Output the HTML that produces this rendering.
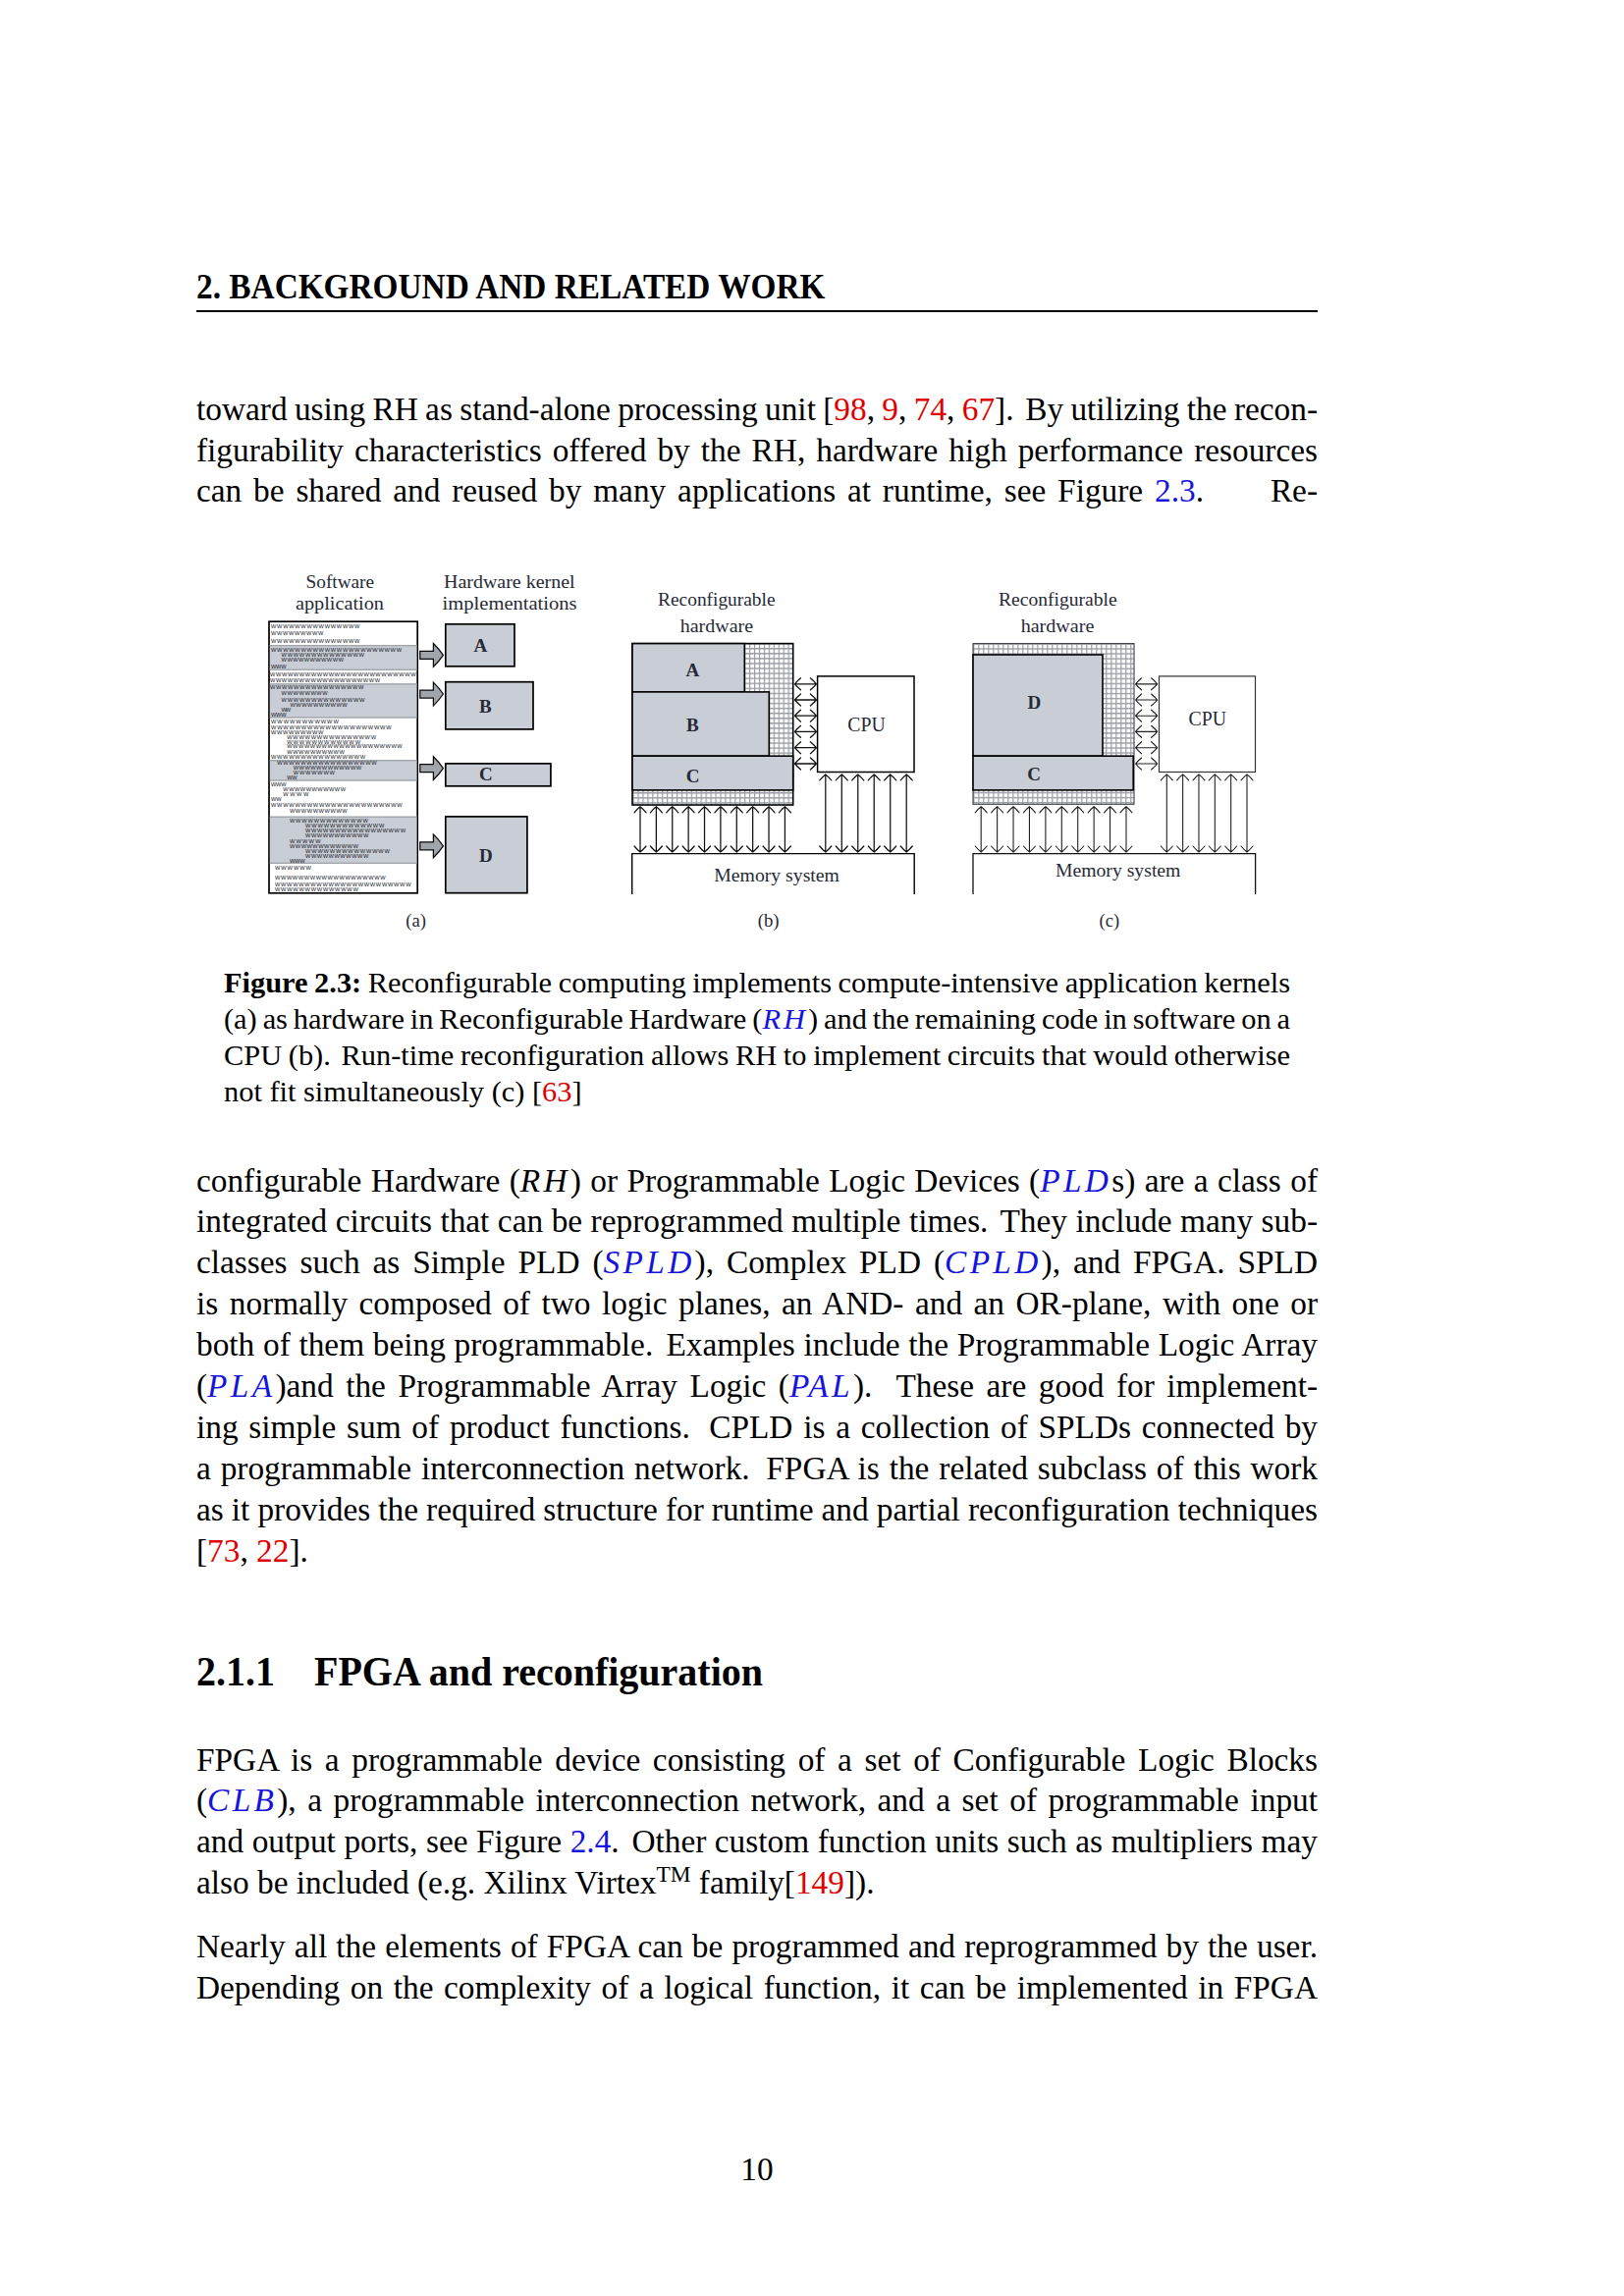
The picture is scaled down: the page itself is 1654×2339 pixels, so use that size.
<!DOCTYPE html>
<html><head><meta charset="utf-8"><style>
html,body{margin:0;padding:0;background:#fff;}
body{width:1654px;height:2339px;position:relative;overflow:hidden;font-family:"Liberation Serif",serif;color:#000;}
.t{position:absolute;line-height:0;white-space:nowrap;}
.r{color:#e00000;}
.b{color:#1414dc;}
.m{font-style:italic;letter-spacing:0.1em;}
sup{font-size:0.7em;vertical-align:0;position:relative;top:-0.5em;line-height:0;}
.rule{position:absolute;left:200.0px;width:1142.0px;top:316px;height:2px;background:#000;}
svg{position:absolute;left:0;top:0;}
</style></head><body>
<div class="rule"></div>
<div class="t" style="top:292.75px;left:200.00px;width:1142.00px;font-size:33.333px;font-weight:bold;transform:scaleY(1.06);transform-origin:0 11.25px;">2. BACKGROUND AND RELATED WORK</div>
<div class="t" style="top:416.75px;left:200.00px;width:1142.00px;font-size:33.333px;word-spacing:-0.990px;">toward using RH as stand-alone processing unit [<span class="r">98</span>, <span class="r">9</span>, <span class="r">74</span>, <span class="r">67</span>].<span style="margin-left:4.36px"></span> By utilizing the recon-</div>
<div class="t" style="top:458.75px;left:200.00px;width:1142.00px;font-size:33.333px;word-spacing:2.748px;">figurability characteristics offered by the RH, hardware high performance resources</div>
<div class="t" style="top:499.75px;left:200.00px;width:1026.00px;font-size:33.333px;word-spacing:3.514px;">can be shared and reused by many applications at runtime, see Figure <span class="b">2.3</span>.</div>
<div class="t" style="top:499.75px;left:1200.00px;width:142.00px;font-size:33.333px;text-align:right;">Re-</div>
<div class="t" style="top:1000.74px;left:228.00px;width:1086.00px;font-size:30.4px;word-spacing:-1.033px;"><b>Figure 2.3:</b> Reconfigurable computing implements compute-intensive application kernels</div>
<div class="t" style="top:1037.99px;left:228.00px;width:1086.00px;font-size:30.4px;word-spacing:-1.700px;">(a) as hardware in Reconfigurable Hardware (<span class="m"><span class="b">RH</span></span>) and the remaining code in software on a</div>
<div class="t" style="top:1075.24px;left:228.00px;width:1086.00px;font-size:30.4px;word-spacing:-0.925px;">CPU (b).<span style="margin-left:3.99px"></span> Run-time reconfiguration allows RH to implement circuits that would otherwise</div>
<div class="t" style="top:1112.49px;left:228.00px;width:1086.00px;font-size:30.4px;">not fit simultaneously (c) [<span class="r">63</span>]</div>
<div class="t" style="top:1202.55px;left:200.00px;width:1142.00px;font-size:33.333px;word-spacing:1.094px;">configurable Hardware (<span class="m">RH</span>) or Programmable Logic Devices (<span class="m"><span class="b">PLD</span></span>s) are a class of</div>
<div class="t" style="top:1244.45px;left:200.00px;width:1142.00px;font-size:33.333px;word-spacing:0.185px;">integrated circuits that can be reprogrammed multiple times.<span style="margin-left:4.07px"></span> They include many sub-</div>
<div class="t" style="top:1286.35px;left:200.00px;width:1142.00px;font-size:33.333px;word-spacing:4.605px;">classes such as Simple PLD (<span class="m"><span class="b">SPLD</span></span>), Complex PLD (<span class="m"><span class="b">CPLD</span></span>), and FPGA. SPLD</div>
<div class="t" style="top:1328.25px;left:200.00px;width:1142.00px;font-size:33.333px;word-spacing:3.161px;">is normally composed of two logic planes, an AND- and an OR-plane, with one or</div>
<div class="t" style="top:1370.15px;left:200.00px;width:1142.00px;font-size:33.333px;word-spacing:0.378px;">both of them being programmable.<span style="margin-left:4.46px"></span> Examples include the Programmable Logic Array</div>
<div class="t" style="top:1412.05px;left:200.00px;width:1142.00px;font-size:33.333px;word-spacing:4.210px;">(<span class="m"><span class="b">PLA</span></span>)and the Programmable Array Logic (<span class="m"><span class="b">PAL</span></span>).<span style="margin-left:12.12px"></span> These are good for implement-</div>
<div class="t" style="top:1453.95px;left:200.00px;width:1142.00px;font-size:33.333px;word-spacing:2.450px;">ing simple sum of product functions.<span style="margin-left:8.60px"></span> CPLD is a collection of SPLDs connected by</div>
<div class="t" style="top:1495.85px;left:200.00px;width:1142.00px;font-size:33.333px;word-spacing:1.554px;">a programmable interconnection network.<span style="margin-left:6.81px"></span> FPGA is the related subclass of this work</div>
<div class="t" style="top:1537.75px;left:200.00px;width:1142.00px;font-size:33.333px;word-spacing:-0.254px;">as it provides the required structure for runtime and partial reconfiguration techniques</div>
<div class="t" style="top:1579.65px;left:200.00px;width:1142.00px;font-size:33.333px;">[<span class="r">73</span>, <span class="r">22</span>].</div>
<div class="t" style="top:1703.50px;left:200.00px;width:1142.00px;font-size:40px;font-weight:bold;transform:scaleY(1.06);transform-origin:0 13.50px;">2.1.1<span style="display:inline-block;width:40px"></span>FPGA and reconfiguration</div>
<div class="t" style="top:1792.75px;left:200.00px;width:1142.00px;font-size:33.333px;word-spacing:4.303px;">FPGA is a programmable device consisting of a set of Configurable Logic Blocks</div>
<div class="t" style="top:1834.45px;left:200.00px;width:1142.00px;font-size:33.333px;word-spacing:3.250px;">(<span class="m"><span class="b">CLB</span></span>), a programmable interconnection network, and a set of programmable input</div>
<div class="t" style="top:1876.15px;left:200.00px;width:1142.00px;font-size:33.333px;word-spacing:0.228px;">and output ports, see Figure <span class="b">2.4</span>.<span style="margin-left:4.16px"></span> Other custom function units such as multipliers may</div>
<div class="t" style="top:1917.85px;left:200.00px;width:1142.00px;font-size:33.333px;">also be included (e.g. Xilinx Virtex<sup>TM</sup> family[<span class="r">149</span>]).</div>
<div class="t" style="top:1982.75px;left:200.00px;width:1142.00px;font-size:33.333px;word-spacing:0.849px;">Nearly all the elements of FPGA can be programmed and reprogrammed by the user.</div>
<div class="t" style="top:2024.75px;left:200.00px;width:1142.00px;font-size:33.333px;word-spacing:2.266px;">Depending on the complexity of a logical function, it can be implemented in FPGA</div>
<div class="t" style="top:2209.75px;left:200.00px;width:1142.00px;font-size:33.333px;text-align:center;">10</div>
<svg width="1654" height="2339" viewBox="0 0 1654 2339"><defs><pattern id="gb" patternUnits="userSpaceOnUse" x="649.4" y="655.0" width="4.94" height="5.07"><rect width="4.94" height="5.07" fill="#fff"/><rect width="1.25" height="5.07" fill="#9a9ea5"/><rect width="4.94" height="1.4" fill="#9a9ea5"/></pattern><pattern id="gc" patternUnits="userSpaceOnUse" x="996.2" y="655.3" width="5.0" height="5.05"><rect width="5" height="5.05" fill="#fff"/><rect width="1.25" height="5.05" fill="#9a9ea5"/><rect width="5" height="1.4" fill="#9a9ea5"/></pattern></defs><text x="346.3" y="598.5" font-family="'Liberation Serif'" font-size="19" text-anchor="middle" fill="#262a36" textLength="69.5" lengthAdjust="spacingAndGlyphs">Software</text><text x="346.0" y="620.6" font-family="'Liberation Serif'" font-size="19" text-anchor="middle" fill="#262a36" textLength="90" lengthAdjust="spacingAndGlyphs">application</text><text x="518.8" y="598.5" font-family="'Liberation Serif'" font-size="19" text-anchor="middle" fill="#262a36" textLength="133.5" lengthAdjust="spacingAndGlyphs">Hardware kernel</text><text x="519.1" y="620.6" font-family="'Liberation Serif'" font-size="19" text-anchor="middle" fill="#262a36" textLength="137" lengthAdjust="spacingAndGlyphs">implementations</text><rect x="274.0" y="633.2" width="151.20" height="276.60" fill="#fff" stroke="#000" stroke-width="1.7" /><rect x="274.85" y="657.0" width="149.50" height="25.90" fill="#c9cdd5"/><rect x="274.85" y="657.0" width="149.50" height="1.4" fill="#a3a7ad"/><rect x="274.85" y="681.50" width="149.50" height="1.4" fill="#a3a7ad"/><rect x="274.85" y="696.2" width="149.50" height="35.40" fill="#c9cdd5"/><rect x="274.85" y="696.2" width="149.50" height="1.4" fill="#a3a7ad"/><rect x="274.85" y="730.20" width="149.50" height="1.4" fill="#a3a7ad"/><rect x="274.85" y="774.0" width="149.50" height="21.60" fill="#c9cdd5"/><rect x="274.85" y="774.0" width="149.50" height="1.4" fill="#a3a7ad"/><rect x="274.85" y="794.20" width="149.50" height="1.4" fill="#a3a7ad"/><rect x="274.85" y="831.6" width="149.50" height="48.40" fill="#c9cdd5"/><rect x="274.85" y="831.6" width="149.50" height="1.4" fill="#a3a7ad"/><rect x="274.85" y="878.60" width="149.50" height="1.4" fill="#a3a7ad"/><text x="276" y="639.7" font-family="'Liberation Sans'" font-size="5.7" fill="#15171f" textLength="90.4" lengthAdjust="spacing">WWWWWWWWWWWWWWW</text><text x="276" y="647.3" font-family="'Liberation Sans'" font-size="5.7" fill="#15171f" textLength="53.3" lengthAdjust="spacing">WWWWWWWWW</text><text x="276" y="654.7" font-family="'Liberation Sans'" font-size="5.7" fill="#15171f" textLength="90.4" lengthAdjust="spacing">WWWWWWWWWWWWWWW</text><text x="276" y="663.6" font-family="'Liberation Sans'" font-size="5.7" fill="#15171f" textLength="133.0" lengthAdjust="spacing">WWWWWWWWWWWWWWWWWWWWWW</text><text x="286.6" y="669.1" font-family="'Liberation Sans'" font-size="5.7" fill="#15171f" textLength="84.3" lengthAdjust="spacing">WWWWWWWWWWWWWW</text><text x="286.6" y="674.1" font-family="'Liberation Sans'" font-size="5.7" fill="#15171f" textLength="63.2" lengthAdjust="spacing">WWWWWWWWWWW</text><text x="276" y="680.8" font-family="'Liberation Sans'" font-size="5.7" fill="#15171f" textLength="15.6" lengthAdjust="spacing">WWW</text><text x="275" y="688.5" font-family="'Liberation Sans'" font-size="5.7" fill="#15171f" textLength="148.5" lengthAdjust="spacing">WWWWWWWWWWWWWWWWWWWWWWWWW</text><text x="275" y="695.0" font-family="'Liberation Sans'" font-size="5.7" fill="#15171f" textLength="112.0" lengthAdjust="spacing">WWWWWWWWWWWWWWWWWWW</text><text x="275" y="702.4" font-family="'Liberation Sans'" font-size="5.7" fill="#15171f" textLength="95.3" lengthAdjust="spacing">WWWWWWWWWWWWWWWW</text><text x="286.6" y="707.9" font-family="'Liberation Sans'" font-size="5.7" fill="#15171f" textLength="47.1" lengthAdjust="spacing">WWWWWWWW</text><text x="286.6" y="714.6" font-family="'Liberation Sans'" font-size="5.7" fill="#15171f" textLength="84.8" lengthAdjust="spacing">WWWWWWWWWWWWWW</text><text x="295.5" y="719.6" font-family="'Liberation Sans'" font-size="5.7" fill="#15171f" textLength="58.2" lengthAdjust="spacing">WWWWWWWWWW</text><text x="286.6" y="725.1" font-family="'Liberation Sans'" font-size="5.7" fill="#15171f" textLength="9.4" lengthAdjust="spacing">WW</text><text x="276" y="729.5" font-family="'Liberation Sans'" font-size="5.7" fill="#15171f" textLength="15.6" lengthAdjust="spacing">WWW</text><text x="276" y="737.1" font-family="'Liberation Sans'" font-size="5.7" fill="#15171f" textLength="68.8" lengthAdjust="spacing">WWWWWWWWWWW</text><text x="276" y="742.8" font-family="'Liberation Sans'" font-size="5.7" fill="#15171f" textLength="122.6" lengthAdjust="spacing">WWWWWWWWWWWWWWWWWWWW</text><text x="276" y="747.8" font-family="'Liberation Sans'" font-size="5.7" fill="#15171f" textLength="53.3" lengthAdjust="spacing">WWWWWWWWW</text><text x="292.2" y="752.8" font-family="'Liberation Sans'" font-size="5.7" fill="#15171f" textLength="90.9" lengthAdjust="spacing">WWWWWWWWWWWWWWW</text><text x="292.2" y="757.8" font-family="'Liberation Sans'" font-size="5.7" fill="#15171f" textLength="74.8" lengthAdjust="spacing">WWWWWWWWWWWW</text><text x="292.2" y="761.9" font-family="'Liberation Sans'" font-size="5.7" fill="#15171f" textLength="117.5" lengthAdjust="spacing">WWWWWWWWWWWWWWWWWWWW</text><text x="292.2" y="767.5" font-family="'Liberation Sans'" font-size="5.7" fill="#15171f" textLength="58.7" lengthAdjust="spacing">WWWWWWWWWW</text><text x="276" y="772.8" font-family="'Liberation Sans'" font-size="5.7" fill="#15171f" textLength="96.0" lengthAdjust="spacing">WWWWWWWWWWWWWWWW</text><text x="282.2" y="779.2" font-family="'Liberation Sans'" font-size="5.7" fill="#15171f" textLength="101.4" lengthAdjust="spacing">WWWWWWWWWWWWWWWWW</text><text x="298.8" y="784.4" font-family="'Liberation Sans'" font-size="5.7" fill="#15171f" textLength="69.3" lengthAdjust="spacing">WWWWWWWWWWWW</text><text x="298.8" y="788.9" font-family="'Liberation Sans'" font-size="5.7" fill="#15171f" textLength="42.1" lengthAdjust="spacing">WWWWWWW</text><text x="292.2" y="793.8" font-family="'Liberation Sans'" font-size="5.7" fill="#15171f" textLength="10.5" lengthAdjust="spacing">WW</text><text x="276" y="801.1" font-family="'Liberation Sans'" font-size="5.7" fill="#15171f" textLength="15.6" lengthAdjust="spacing">WWW</text><text x="288.3" y="805.8" font-family="'Liberation Sans'" font-size="5.7" fill="#15171f" textLength="63.7" lengthAdjust="spacing">WWWWWWWWWWW</text><text x="288.3" y="811.0" font-family="'Liberation Sans'" font-size="5.7" fill="#15171f" textLength="26.0" lengthAdjust="spacing">WWWW</text><text x="276" y="816.1" font-family="'Liberation Sans'" font-size="5.7" fill="#15171f" textLength="10.6" lengthAdjust="spacing">WW</text><text x="276" y="821.9" font-family="'Liberation Sans'" font-size="5.7" fill="#15171f" textLength="133.7" lengthAdjust="spacing">WWWWWWWWWWWWWWWWWWWWWW</text><text x="294.9" y="828.0" font-family="'Liberation Sans'" font-size="5.7" fill="#15171f" textLength="58.8" lengthAdjust="spacing">WWWWWWWWWW</text><text x="294.9" y="838.0" font-family="'Liberation Sans'" font-size="5.7" fill="#15171f" textLength="79.9" lengthAdjust="spacing">WWWWWWWWWWWWW</text><text x="311" y="842.8" font-family="'Liberation Sans'" font-size="5.7" fill="#15171f" textLength="80.4" lengthAdjust="spacing">WWWWWWWWWWWWW</text><text x="311" y="848.0" font-family="'Liberation Sans'" font-size="5.7" fill="#15171f" textLength="102.0" lengthAdjust="spacing">WWWWWWWWWWWWWWWWW</text><text x="311" y="852.7" font-family="'Liberation Sans'" font-size="5.7" fill="#15171f" textLength="64.3" lengthAdjust="spacing">WWWWWWWWWWW</text><text x="294.9" y="858.5" font-family="'Liberation Sans'" font-size="5.7" fill="#15171f" textLength="31.6" lengthAdjust="spacing">WWWWW</text><text x="294.9" y="863.8" font-family="'Liberation Sans'" font-size="5.7" fill="#15171f" textLength="69.9" lengthAdjust="spacing">WWWWWWWWWWWW</text><text x="311" y="869.0" font-family="'Liberation Sans'" font-size="5.7" fill="#15171f" textLength="85.9" lengthAdjust="spacing">WWWWWWWWWWWWWW</text><text x="311" y="874.0" font-family="'Liberation Sans'" font-size="5.7" fill="#15171f" textLength="64.3" lengthAdjust="spacing">WWWWWWWWWWW</text><text x="294.9" y="879.0" font-family="'Liberation Sans'" font-size="5.7" fill="#15171f" textLength="15.6" lengthAdjust="spacing">WWW</text><text x="280" y="886.0" font-family="'Liberation Sans'" font-size="5.7" fill="#15171f" textLength="36.9" lengthAdjust="spacing">WWWWWW</text><text x="280" y="895.6" font-family="'Liberation Sans'" font-size="5.7" fill="#15171f" textLength="112.5" lengthAdjust="spacing">WWWWWWWWWWWWWWWWWWW</text><text x="280" y="902.8" font-family="'Liberation Sans'" font-size="5.7" fill="#15171f" textLength="138.5" lengthAdjust="spacing">WWWWWWWWWWWWWWWWWWWWWWW</text><text x="280" y="908.4" font-family="'Liberation Sans'" font-size="5.7" fill="#15171f" textLength="84.8" lengthAdjust="spacing">WWWWWWWWWWWWWW</text><path d="M427.8,663.4 L441.4,663.4 L441.4,655.5 Q447.4,661.4 451.4,667.4 Q447.4,673.4 441.4,679.3 L441.4,671.4 L427.8,671.4 Z" fill="#a0a5ac" stroke="#0a0a0a" stroke-width="1.25" stroke-linejoin="miter"/><path d="M427.8,703.0 L441.4,703.0 L441.4,695.1 Q447.4,701.0 451.4,707.0 Q447.4,713.0 441.4,718.9 L441.4,711.0 L427.8,711.0 Z" fill="#a0a5ac" stroke="#0a0a0a" stroke-width="1.25" stroke-linejoin="miter"/><path d="M427.8,778.6 L441.4,778.6 L441.4,770.7 Q447.4,776.6 451.4,782.6 Q447.4,788.6 441.4,794.5 L441.4,786.6 L427.8,786.6 Z" fill="#a0a5ac" stroke="#0a0a0a" stroke-width="1.25" stroke-linejoin="miter"/><path d="M427.8,857.8 L441.4,857.8 L441.4,849.9 Q447.4,855.8 451.4,861.8 Q447.4,867.8 441.4,873.6999999999999 L441.4,865.8 L427.8,865.8 Z" fill="#a0a5ac" stroke="#0a0a0a" stroke-width="1.25" stroke-linejoin="miter"/><rect x="453.8" y="635.8" width="70.20" height="43.00" fill="#c9cdd5" stroke="#000" stroke-width="1.7" /><rect x="453.8" y="694.7" width="89.20" height="48.20" fill="#c9cdd5" stroke="#000" stroke-width="1.7" /><rect x="453.8" y="777.9" width="107.10" height="22.90" fill="#c9cdd5" stroke="#000" stroke-width="1.7" /><rect x="453.8" y="831.9" width="83.10" height="77.80" fill="#c9cdd5" stroke="#000" stroke-width="1.7" /><text x="489.3" y="663.6" font-family="'Liberation Serif'" font-size="19" font-weight="bold" text-anchor="middle" fill="#262a36">A</text><text x="494.4" y="726.3" font-family="'Liberation Serif'" font-size="19" font-weight="bold" text-anchor="middle" fill="#262a36">B</text><text x="494.8" y="795.4" font-family="'Liberation Serif'" font-size="19" font-weight="bold" text-anchor="middle" fill="#262a36">C</text><text x="494.8" y="877.6" font-family="'Liberation Serif'" font-size="19" font-weight="bold" text-anchor="middle" fill="#262a36">D</text><text x="423.6" y="943.7" font-family="'Liberation Serif'" font-size="19" text-anchor="middle" fill="#262a36" textLength="20.7" lengthAdjust="spacingAndGlyphs">(a)</text><text x="729.8" y="617.0" font-family="'Liberation Serif'" font-size="19" text-anchor="middle" fill="#262a36" textLength="119.5" lengthAdjust="spacingAndGlyphs">Reconfigurable</text><text x="729.9" y="643.6" font-family="'Liberation Serif'" font-size="19" text-anchor="middle" fill="#262a36" textLength="74.3" lengthAdjust="spacingAndGlyphs">hardware</text><rect x="644.0" y="655.6" width="163.70" height="164.40" fill="url(#gb)" stroke="#000" stroke-width="1.6" /><rect x="644.0" y="655.6" width="114.30" height="49.30" fill="#c9cdd5" stroke="#000" stroke-width="1.6" /><rect x="644.0" y="704.9" width="139.30" height="65.30" fill="#c9cdd5" stroke="#000" stroke-width="1.6" /><rect x="644.0" y="770.2" width="163.70" height="34.70" fill="#c9cdd5" stroke="#000" stroke-width="1.6" /><text x="705.4" y="688.8" font-family="'Liberation Serif'" font-size="19" font-weight="bold" text-anchor="middle" fill="#262a36">A</text><text x="705.4" y="744.6" font-family="'Liberation Serif'" font-size="19" font-weight="bold" text-anchor="middle" fill="#262a36">B</text><text x="705.6" y="796.8" font-family="'Liberation Serif'" font-size="19" font-weight="bold" text-anchor="middle" fill="#262a36">C</text><rect x="832.6" y="688.9" width="98.40" height="97.60" fill="#fff" stroke="#000" stroke-width="1.5" /><text x="882.5" y="744.6" font-family="'Liberation Serif'" font-size="20.5" text-anchor="middle" fill="#262a36" textLength="38.5" lengthAdjust="spacingAndGlyphs">CPU</text><path d="M809.5,696.8 L831.4,696.8 M815.5,690.8 Q811.6,694.0999999999999 809.5,696.8 Q811.6,699.5 815.5,702.8 M825.4,690.8 Q829.3,694.0999999999999 831.4,696.8 Q829.3,699.5 825.4,702.8" fill="none" stroke="#111" stroke-width="1.3" stroke-linecap="round"/><path d="M809.5,713.0 L831.4,713.0 M815.5,707.0 Q811.6,710.3 809.5,713.0 Q811.6,715.7 815.5,719.0 M825.4,707.0 Q829.3,710.3 831.4,713.0 Q829.3,715.7 825.4,719.0" fill="none" stroke="#111" stroke-width="1.3" stroke-linecap="round"/><path d="M809.5,729.2 L831.4,729.2 M815.5,723.2 Q811.6,726.5 809.5,729.2 Q811.6,731.9000000000001 815.5,735.2 M825.4,723.2 Q829.3,726.5 831.4,729.2 Q829.3,731.9000000000001 825.4,735.2" fill="none" stroke="#111" stroke-width="1.3" stroke-linecap="round"/><path d="M809.5,745.3 L831.4,745.3 M815.5,739.3 Q811.6,742.5999999999999 809.5,745.3 Q811.6,748.0 815.5,751.3 M825.4,739.3 Q829.3,742.5999999999999 831.4,745.3 Q829.3,748.0 825.4,751.3" fill="none" stroke="#111" stroke-width="1.3" stroke-linecap="round"/><path d="M809.5,761.7 L831.4,761.7 M815.5,755.7 Q811.6,759.0 809.5,761.7 Q811.6,764.4000000000001 815.5,767.7 M825.4,755.7 Q829.3,759.0 831.4,761.7 Q829.3,764.4000000000001 825.4,767.7" fill="none" stroke="#111" stroke-width="1.3" stroke-linecap="round"/><path d="M809.5,778.0 L831.4,778.0 M815.5,772.0 Q811.6,775.3 809.5,778.0 Q811.6,780.7 815.5,784.0 M825.4,772.0 Q829.3,775.3 831.4,778.0 Q829.3,780.7 825.4,784.0" fill="none" stroke="#111" stroke-width="1.3" stroke-linecap="round"/><path d="M652.0,821.8 L652.0,868.0 M646.0,827.8 Q649.3,823.9 652.0,821.8 Q654.7,823.9 658.0,827.8 M646.0,862.0 Q649.3,865.9 652.0,868.0 Q654.7,865.9 658.0,862.0" fill="none" stroke="#111" stroke-width="1.25" stroke-linecap="round"/><path d="M668.38,821.8 L668.38,868.0 M662.38,827.8 Q665.68,823.9 668.38,821.8 Q671.08,823.9 674.38,827.8 M662.38,862.0 Q665.68,865.9 668.38,868.0 Q671.08,865.9 674.38,862.0" fill="none" stroke="#111" stroke-width="1.25" stroke-linecap="round"/><path d="M684.76,821.8 L684.76,868.0 M678.76,827.8 Q682.06,823.9 684.76,821.8 Q687.46,823.9 690.76,827.8 M678.76,862.0 Q682.06,865.9 684.76,868.0 Q687.46,865.9 690.76,862.0" fill="none" stroke="#111" stroke-width="1.25" stroke-linecap="round"/><path d="M701.14,821.8 L701.14,868.0 M695.14,827.8 Q698.4399999999999,823.9 701.14,821.8 Q703.84,823.9 707.14,827.8 M695.14,862.0 Q698.4399999999999,865.9 701.14,868.0 Q703.84,865.9 707.14,862.0" fill="none" stroke="#111" stroke-width="1.25" stroke-linecap="round"/><path d="M717.52,821.8 L717.52,868.0 M711.52,827.8 Q714.8199999999999,823.9 717.52,821.8 Q720.22,823.9 723.52,827.8 M711.52,862.0 Q714.8199999999999,865.9 717.52,868.0 Q720.22,865.9 723.52,862.0" fill="none" stroke="#111" stroke-width="1.25" stroke-linecap="round"/><path d="M733.9,821.8 L733.9,868.0 M727.9,827.8 Q731.1999999999999,823.9 733.9,821.8 Q736.6,823.9 739.9,827.8 M727.9,862.0 Q731.1999999999999,865.9 733.9,868.0 Q736.6,865.9 739.9,862.0" fill="none" stroke="#111" stroke-width="1.25" stroke-linecap="round"/><path d="M750.28,821.8 L750.28,868.0 M744.28,827.8 Q747.5799999999999,823.9 750.28,821.8 Q752.98,823.9 756.28,827.8 M744.28,862.0 Q747.5799999999999,865.9 750.28,868.0 Q752.98,865.9 756.28,862.0" fill="none" stroke="#111" stroke-width="1.25" stroke-linecap="round"/><path d="M766.66,821.8 L766.66,868.0 M760.66,827.8 Q763.9599999999999,823.9 766.66,821.8 Q769.36,823.9 772.66,827.8 M760.66,862.0 Q763.9599999999999,865.9 766.66,868.0 Q769.36,865.9 772.66,862.0" fill="none" stroke="#111" stroke-width="1.25" stroke-linecap="round"/><path d="M783.04,821.8 L783.04,868.0 M777.04,827.8 Q780.3399999999999,823.9 783.04,821.8 Q785.74,823.9 789.04,827.8 M777.04,862.0 Q780.3399999999999,865.9 783.04,868.0 Q785.74,865.9 789.04,862.0" fill="none" stroke="#111" stroke-width="1.25" stroke-linecap="round"/><path d="M799.42,821.8 L799.42,868.0 M793.42,827.8 Q796.7199999999999,823.9 799.42,821.8 Q802.12,823.9 805.42,827.8 M793.42,862.0 Q796.7199999999999,865.9 799.42,868.0 Q802.12,865.9 805.42,862.0" fill="none" stroke="#111" stroke-width="1.25" stroke-linecap="round"/><path d="M840.8,788.9 L840.8,868.0 M834.8,794.9 Q838.0999999999999,791.0 840.8,788.9 Q843.5,791.0 846.8,794.9 M834.8,862.0 Q838.0999999999999,865.9 840.8,868.0 Q843.5,865.9 846.8,862.0" fill="none" stroke="#111" stroke-width="1.25" stroke-linecap="round"/><path d="M857.28,788.9 L857.28,868.0 M851.28,794.9 Q854.5799999999999,791.0 857.28,788.9 Q859.98,791.0 863.28,794.9 M851.28,862.0 Q854.5799999999999,865.9 857.28,868.0 Q859.98,865.9 863.28,862.0" fill="none" stroke="#111" stroke-width="1.25" stroke-linecap="round"/><path d="M873.76,788.9 L873.76,868.0 M867.76,794.9 Q871.06,791.0 873.76,788.9 Q876.46,791.0 879.76,794.9 M867.76,862.0 Q871.06,865.9 873.76,868.0 Q876.46,865.9 879.76,862.0" fill="none" stroke="#111" stroke-width="1.25" stroke-linecap="round"/><path d="M890.24,788.9 L890.24,868.0 M884.24,794.9 Q887.54,791.0 890.24,788.9 Q892.94,791.0 896.24,794.9 M884.24,862.0 Q887.54,865.9 890.24,868.0 Q892.94,865.9 896.24,862.0" fill="none" stroke="#111" stroke-width="1.25" stroke-linecap="round"/><path d="M906.7199999999999,788.9 L906.7199999999999,868.0 M900.7199999999999,794.9 Q904.0199999999999,791.0 906.7199999999999,788.9 Q909.42,791.0 912.7199999999999,794.9 M900.7199999999999,862.0 Q904.0199999999999,865.9 906.7199999999999,868.0 Q909.42,865.9 912.7199999999999,862.0" fill="none" stroke="#111" stroke-width="1.25" stroke-linecap="round"/><path d="M923.1999999999999,788.9 L923.1999999999999,868.0 M917.1999999999999,794.9 Q920.4999999999999,791.0 923.1999999999999,788.9 Q925.9,791.0 929.1999999999999,794.9 M917.1999999999999,862.0 Q920.4999999999999,865.9 923.1999999999999,868.0 Q925.9,865.9 929.1999999999999,862.0" fill="none" stroke="#111" stroke-width="1.25" stroke-linecap="round"/><path d="M643.7,911 L643.7,869.6 L931.2,869.6 L931.2,911" fill="none" stroke="#000" stroke-width="1.4"/><text x="791.1" y="897.6" font-family="'Liberation Serif'" font-size="19.5" text-anchor="middle" fill="#262a36" textLength="127.5" lengthAdjust="spacingAndGlyphs">Memory system</text><text x="782.6" y="943.7" font-family="'Liberation Serif'" font-size="19" text-anchor="middle" fill="#262a36" textLength="21.9" lengthAdjust="spacingAndGlyphs">(b)</text><text x="1077.3" y="617.0" font-family="'Liberation Serif'" font-size="19" text-anchor="middle" fill="#262a36" textLength="120.6" lengthAdjust="spacingAndGlyphs">Reconfigurable</text><text x="1077.0" y="643.6" font-family="'Liberation Serif'" font-size="19" text-anchor="middle" fill="#262a36" textLength="74.7" lengthAdjust="spacingAndGlyphs">hardware</text><rect x="991.0" y="655.6" width="164.00" height="163.70" fill="url(#gc)" stroke="#3a3d44" stroke-width="1.1" /><rect x="991.0" y="667.0" width="132.00" height="103.20" fill="#c9cdd5" stroke="#000" stroke-width="1.6" /><rect x="991.0" y="770.2" width="163.20" height="34.70" fill="#c9cdd5" stroke="#000" stroke-width="1.6" /><text x="1053.3" y="721.6" font-family="'Liberation Serif'" font-size="19" font-weight="bold" text-anchor="middle" fill="#262a36">D</text><text x="1053.0" y="794.5" font-family="'Liberation Serif'" font-size="19" font-weight="bold" text-anchor="middle" fill="#262a36">C</text><rect x="1180.5" y="688.9" width="98.00" height="97.60" fill="#fff" stroke="#333" stroke-width="1.2" /><text x="1229.8" y="739.4" font-family="'Liberation Serif'" font-size="20.5" text-anchor="middle" fill="#262a36" textLength="38.5" lengthAdjust="spacingAndGlyphs">CPU</text><path d="M1156.6,696.8 L1178.6,696.8 M1162.6,690.8 Q1158.6999999999998,694.0999999999999 1156.6,696.8 Q1158.6999999999998,699.5 1162.6,702.8 M1172.6,690.8 Q1176.5,694.0999999999999 1178.6,696.8 Q1176.5,699.5 1172.6,702.8" fill="none" stroke="#222" stroke-width="1.15" stroke-linecap="round"/><path d="M1156.6,713.0 L1178.6,713.0 M1162.6,707.0 Q1158.6999999999998,710.3 1156.6,713.0 Q1158.6999999999998,715.7 1162.6,719.0 M1172.6,707.0 Q1176.5,710.3 1178.6,713.0 Q1176.5,715.7 1172.6,719.0" fill="none" stroke="#222" stroke-width="1.15" stroke-linecap="round"/><path d="M1156.6,729.2 L1178.6,729.2 M1162.6,723.2 Q1158.6999999999998,726.5 1156.6,729.2 Q1158.6999999999998,731.9000000000001 1162.6,735.2 M1172.6,723.2 Q1176.5,726.5 1178.6,729.2 Q1176.5,731.9000000000001 1172.6,735.2" fill="none" stroke="#222" stroke-width="1.15" stroke-linecap="round"/><path d="M1156.6,745.3 L1178.6,745.3 M1162.6,739.3 Q1158.6999999999998,742.5999999999999 1156.6,745.3 Q1158.6999999999998,748.0 1162.6,751.3 M1172.6,739.3 Q1176.5,742.5999999999999 1178.6,745.3 Q1176.5,748.0 1172.6,751.3" fill="none" stroke="#222" stroke-width="1.15" stroke-linecap="round"/><path d="M1156.6,761.7 L1178.6,761.7 M1162.6,755.7 Q1158.6999999999998,759.0 1156.6,761.7 Q1158.6999999999998,764.4000000000001 1162.6,767.7 M1172.6,755.7 Q1176.5,759.0 1178.6,761.7 Q1176.5,764.4000000000001 1172.6,767.7" fill="none" stroke="#222" stroke-width="1.15" stroke-linecap="round"/><path d="M1156.6,778.0 L1178.6,778.0 M1162.6,772.0 Q1158.6999999999998,775.3 1156.6,778.0 Q1158.6999999999998,780.7 1162.6,784.0 M1172.6,772.0 Q1176.5,775.3 1178.6,778.0 Q1176.5,780.7 1172.6,784.0" fill="none" stroke="#222" stroke-width="1.15" stroke-linecap="round"/><path d="M999.2,821.8 L999.2,868.0 M993.2,827.8 Q996.5,823.9 999.2,821.8 Q1001.9000000000001,823.9 1005.2,827.8 M993.2,862.0 Q996.5,865.9 999.2,868.0 Q1001.9000000000001,865.9 1005.2,862.0" fill="none" stroke="#222" stroke-width="1.1" stroke-linecap="round"/><path d="M1015.62,821.8 L1015.62,868.0 M1009.62,827.8 Q1012.92,823.9 1015.62,821.8 Q1018.32,823.9 1021.62,827.8 M1009.62,862.0 Q1012.92,865.9 1015.62,868.0 Q1018.32,865.9 1021.62,862.0" fill="none" stroke="#222" stroke-width="1.1" stroke-linecap="round"/><path d="M1032.04,821.8 L1032.04,868.0 M1026.04,827.8 Q1029.34,823.9 1032.04,821.8 Q1034.74,823.9 1038.04,827.8 M1026.04,862.0 Q1029.34,865.9 1032.04,868.0 Q1034.74,865.9 1038.04,862.0" fill="none" stroke="#222" stroke-width="1.1" stroke-linecap="round"/><path d="M1048.46,821.8 L1048.46,868.0 M1042.46,827.8 Q1045.76,823.9 1048.46,821.8 Q1051.16,823.9 1054.46,827.8 M1042.46,862.0 Q1045.76,865.9 1048.46,868.0 Q1051.16,865.9 1054.46,862.0" fill="none" stroke="#222" stroke-width="1.1" stroke-linecap="round"/><path d="M1064.88,821.8 L1064.88,868.0 M1058.88,827.8 Q1062.18,823.9 1064.88,821.8 Q1067.5800000000002,823.9 1070.88,827.8 M1058.88,862.0 Q1062.18,865.9 1064.88,868.0 Q1067.5800000000002,865.9 1070.88,862.0" fill="none" stroke="#222" stroke-width="1.1" stroke-linecap="round"/><path d="M1081.3,821.8 L1081.3,868.0 M1075.3,827.8 Q1078.6,823.9 1081.3,821.8 Q1084.0,823.9 1087.3,827.8 M1075.3,862.0 Q1078.6,865.9 1081.3,868.0 Q1084.0,865.9 1087.3,862.0" fill="none" stroke="#222" stroke-width="1.1" stroke-linecap="round"/><path d="M1097.72,821.8 L1097.72,868.0 M1091.72,827.8 Q1095.02,823.9 1097.72,821.8 Q1100.42,823.9 1103.72,827.8 M1091.72,862.0 Q1095.02,865.9 1097.72,868.0 Q1100.42,865.9 1103.72,862.0" fill="none" stroke="#222" stroke-width="1.1" stroke-linecap="round"/><path d="M1114.14,821.8 L1114.14,868.0 M1108.14,827.8 Q1111.44,823.9 1114.14,821.8 Q1116.8400000000001,823.9 1120.14,827.8 M1108.14,862.0 Q1111.44,865.9 1114.14,868.0 Q1116.8400000000001,865.9 1120.14,862.0" fill="none" stroke="#222" stroke-width="1.1" stroke-linecap="round"/><path d="M1130.56,821.8 L1130.56,868.0 M1124.56,827.8 Q1127.86,823.9 1130.56,821.8 Q1133.26,823.9 1136.56,827.8 M1124.56,862.0 Q1127.86,865.9 1130.56,868.0 Q1133.26,865.9 1136.56,862.0" fill="none" stroke="#222" stroke-width="1.1" stroke-linecap="round"/><path d="M1146.98,821.8 L1146.98,868.0 M1140.98,827.8 Q1144.28,823.9 1146.98,821.8 Q1149.68,823.9 1152.98,827.8 M1140.98,862.0 Q1144.28,865.9 1146.98,868.0 Q1149.68,865.9 1152.98,862.0" fill="none" stroke="#222" stroke-width="1.1" stroke-linecap="round"/><path d="M1188.3,788.9 L1188.3,868.0 M1182.3,794.9 Q1185.6,791.0 1188.3,788.9 Q1191.0,791.0 1194.3,794.9 M1182.3,862.0 Q1185.6,865.9 1188.3,868.0 Q1191.0,865.9 1194.3,862.0" fill="none" stroke="#222" stroke-width="1.1" stroke-linecap="round"/><path d="M1204.6399999999999,788.9 L1204.6399999999999,868.0 M1198.6399999999999,794.9 Q1201.9399999999998,791.0 1204.6399999999999,788.9 Q1207.34,791.0 1210.6399999999999,794.9 M1198.6399999999999,862.0 Q1201.9399999999998,865.9 1204.6399999999999,868.0 Q1207.34,865.9 1210.6399999999999,862.0" fill="none" stroke="#222" stroke-width="1.1" stroke-linecap="round"/><path d="M1220.98,788.9 L1220.98,868.0 M1214.98,794.9 Q1218.28,791.0 1220.98,788.9 Q1223.68,791.0 1226.98,794.9 M1214.98,862.0 Q1218.28,865.9 1220.98,868.0 Q1223.68,865.9 1226.98,862.0" fill="none" stroke="#222" stroke-width="1.1" stroke-linecap="round"/><path d="M1237.32,788.9 L1237.32,868.0 M1231.32,794.9 Q1234.62,791.0 1237.32,788.9 Q1240.02,791.0 1243.32,794.9 M1231.32,862.0 Q1234.62,865.9 1237.32,868.0 Q1240.02,865.9 1243.32,862.0" fill="none" stroke="#222" stroke-width="1.1" stroke-linecap="round"/><path d="M1253.6599999999999,788.9 L1253.6599999999999,868.0 M1247.6599999999999,794.9 Q1250.9599999999998,791.0 1253.6599999999999,788.9 Q1256.36,791.0 1259.6599999999999,794.9 M1247.6599999999999,862.0 Q1250.9599999999998,865.9 1253.6599999999999,868.0 Q1256.36,865.9 1259.6599999999999,862.0" fill="none" stroke="#222" stroke-width="1.1" stroke-linecap="round"/><path d="M1270.0,788.9 L1270.0,868.0 M1264.0,794.9 Q1267.3,791.0 1270.0,788.9 Q1272.7,791.0 1276.0,794.9 M1264.0,862.0 Q1267.3,865.9 1270.0,868.0 Q1272.7,865.9 1276.0,862.0" fill="none" stroke="#222" stroke-width="1.1" stroke-linecap="round"/><path d="M991.0,911 L991.0,869.6 L1278.6,869.6 L1278.6,911" fill="none" stroke="#111" stroke-width="1.3"/><text x="1138.7" y="892.8" font-family="'Liberation Serif'" font-size="19.5" text-anchor="middle" fill="#262a36" textLength="127.5" lengthAdjust="spacingAndGlyphs">Memory system</text><text x="1129.8" y="943.7" font-family="'Liberation Serif'" font-size="19" text-anchor="middle" fill="#262a36" textLength="20.5" lengthAdjust="spacingAndGlyphs">(c)</text></svg>
</body></html>
